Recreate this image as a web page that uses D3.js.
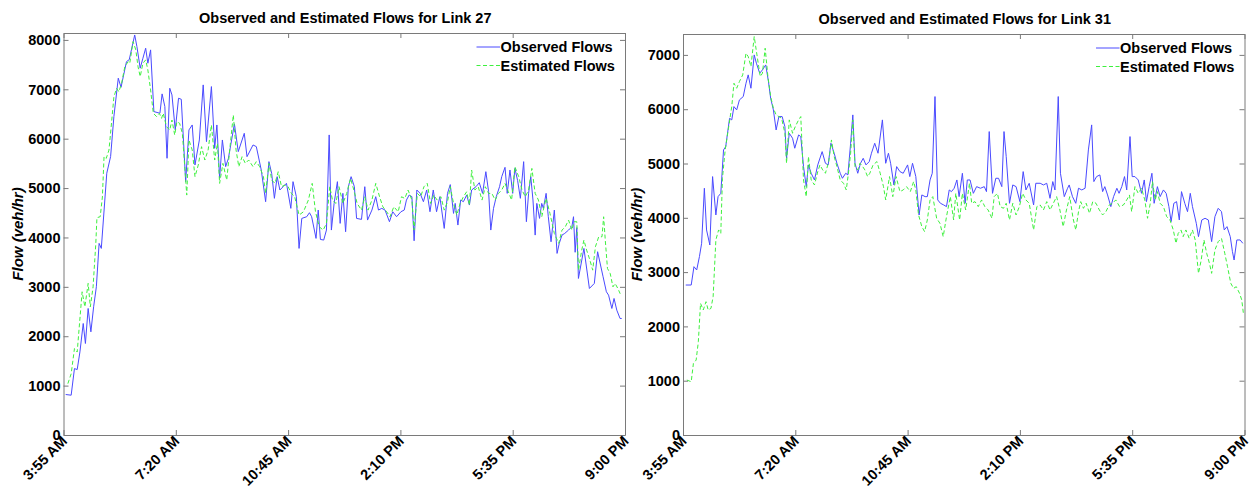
<!DOCTYPE html>
<html><head><meta charset="utf-8">
<script src="https://cdn.jsdelivr.net/npm/d3@7"></script>
<style>
html,body{margin:0;padding:0;background:#fff;}
svg text{font-family:Arial,"Liberation Sans",sans-serif;}
</style></head>
<body><svg id="c" width="1255" height="488"></svg>
<script>
// minutes after 3:55 AM
const timeTickMinutes = [0, 205, 410, 615, 820, 1025];
const timeTickLabels = ["3:55 AM", "7:20 AM", "10:45 AM", "2:10 PM", "5:35 PM", "9:00 PM"];
const link27YTicks = [0,1000,2000,3000,4000,5000,6000,7000,8000];
const link31YTicks = [0,1000,2000,3000,4000,5000,6000,7000];
const seriesNames = ["Observed Flows", "Estimated Flows"];

const link27ObsT = [4,14,20,25,30,36,40,45,50,55,60,65,69,79,86,92,100,105,115,120,130,134,140,145,150,154,159,165,176,180,185,189,194,198,204,210,215,223,229,235,240,248,255,261,270,276,280,285,290,296,301,312,319,330,335,346,352,361,369,375,380,385,390,395,401,407,415,419,425,430,435,444,449,453,461,465,469,475,480,485,489,494,500,505,510,515,520,525,531,535,544,550,555,563,570,575,581,587,595,601,608,616,622,626,631,636,640,645,651,657,663,669,675,681,687,695,701,706,712,715,720,725,730,736,741,745,753,759,765,771,776,780,785,790,796,800,806,810,815,820,824,829,834,840,845,849,853,857,861,864,869,873,876,881,885,890,896,901,905,910,915,922,928,931,934,937,940,950,960,969,975,985,991,995,1001,1005,1010,1016,1019];
const link27ObsV = [820,806,1345,1325,1683,2258,1853,2562,2089,2596,3001,3880,3778,5300,5640,6450,7225,7040,7560,7600,8100,7866,7427,7630,7832,7528,7798,6549,6515,6907,6650,5603,7021,6886,6177,6819,6798,5130,6177,6278,5468,5974,7089,5940,7055,5805,6278,5197,5974,5434,5600,6300,5738,6109,5636,5873,5839,5366,4724,5535,5298,4792,5231,4961,5028,5096,4589,5130,4826,3778,4386,4420,4501,4420,3981,4555,3960,3947,4150,6076,4150,4690,5130,4285,4893,4116,5028,5231,5028,4386,4366,5028,4352,4555,4826,4555,4589,4555,4319,4521,4420,4521,4555,4757,4859,4826,3933,4961,4893,4724,4961,4521,4961,4521,4826,4183,4893,5070,4487,4690,4251,4758,4724,4859,4656,4961,5028,5109,4893,5332,4927,4150,4589,4826,5028,5231,5420,4893,5366,4893,5400,5150,4792,5535,4319,4893,5231,4758,4048,4690,4386,4690,4589,4893,4420,3913,4555,3677,3880,4048,4082,4150,4217,4420,3700,4200,3170,3778,2967,3069,3711,3204,2900,2832,2562,2765,2528,2359,2359];

const link27EstT = [8,14,20,25,34,39,45,49,54,59,61,67,71,74,78,83,87,92,97,101,106,112,118,121,127,132,136,140,145,150,154,159,164,170,175,179,182,188,194,198,203,207,212,217,225,229,235,240,246,252,258,264,270,276,281,285,291,298,304,310,315,320,326,332,338,346,352,358,365,369,375,380,386,392,398,404,410,416,422,430,438,447,454,460,467,474,480,486,491,497,503,510,517,524,530,536,544,550,556,563,570,577,583,590,596,603,611,617,623,629,636,640,646,652,658,664,670,676,682,689,695,701,706,712,718,724,730,736,741,745,751,757,764,770,776,782,788,794,800,806,812,818,824,831,837,843,849,855,861,867,873,881,888,896,904,910,916,922,928,932,937,940,946,950,955,961,966,971,977,983,986,989,993,998,1003,1007,1012,1016,1019];
const link27EstV = [1040,1240,1750,1680,2900,2595,3070,2595,3000,3880,4400,4420,4820,5635,5600,5770,6240,6850,7020,6950,7120,7460,7560,7530,7966,7797,7460,7257,7527,7595,7392,6987,6514,6446,6514,6412,6514,6243,6175,6378,6074,6345,6311,6108,4858,5973,5770,5230,5466,5838,5568,5770,6277,5568,5905,5095,5500,5162,5838,6480,5770,5433,5635,5500,5568,5433,5534,5433,5230,4892,5500,5162,5095,5331,5028,5061,5028,4892,4824,4453,4520,4757,5095,4520,4216,4149,4284,5028,4757,4689,5028,4689,4892,5196,4960,4689,4554,4824,4554,4757,5095,4824,4622,4520,4419,4622,4520,4824,4791,4960,4757,4149,4892,4824,5028,5095,4689,4858,4757,4824,4554,4723,5028,4689,4453,4689,4824,4926,4655,5365,4960,5028,4757,5028,4892,4892,4757,4892,4960,5095,4926,4757,5432,5230,4960,4824,4960,5398,4892,4757,4419,4791,4487,4081,3879,4149,4216,4351,4149,4318,4318,3338,3743,3946,3743,3540,3338,3811,4014,4014,4419,3946,3372,3270,3000,3068,2966,2865,2831];

const link31ObsT = [5,15,20,25,30,34,39,43,49,54,60,64,69,74,78,85,89,93,98,103,110,115,119,124,130,134,140,145,151,156,160,165,170,175,181,186,189,194,200,204,211,215,220,225,229,234,240,246,254,260,265,270,276,281,287,291,297,301,306,310,314,319,324,329,334,340,344,350,356,364,370,375,379,385,390,396,402,410,414,419,425,431,436,442,446,451,455,460,465,470,476,481,486,490,495,500,504,510,515,519,524,530,536,543,550,554,559,565,571,576,582,586,590,596,602,608,615,621,626,632,640,644,652,658,664,670,675,679,685,689,696,702,705,711,717,722,728,734,740,746,750,755,761,766,770,775,781,786,792,796,801,806,810,816,820,825,831,837,842,846,851,856,860,866,871,877,882,887,891,896,901,906,910,916,921,926,930,937,941,947,953,959,965,971,977,983,988,993,999,1003,1006,1011,1017,1022];
const link31ObsV = [2762,2762,3100,3039,3285,3531,4544,3776,3499,4759,4052,4390,4451,5250,5311,5833,5803,6048,5987,6171,6233,6478,6632,6386,7000,6847,6663,6724,6816,6509,6202,5987,5618,5864,5864,5680,5096,5557,5465,5281,5526,5496,4943,4574,4974,4820,4697,4974,5219,5004,4974,5373,5189,5004,4820,4728,4820,4790,5373,5895,5004,4820,5004,5096,4974,5035,5189,5373,5189,5803,5004,5189,5004,4605,4943,4851,4820,4974,4759,5004,4759,4052,4421,4390,4390,4697,4820,6233,4329,4267,4236,4206,4513,4482,4544,4697,4390,4820,4267,4697,4697,4451,4574,4544,4574,4482,5588,4451,4728,4728,4574,5588,5127,4267,4605,4574,4298,4851,4513,4636,4236,4636,4636,4605,4636,4359,4667,4513,6233,4820,4390,4544,4605,4390,4267,4544,4513,4544,5250,5711,4667,4759,4790,4482,4574,4421,4206,4390,4544,4451,4574,4759,4513,5496,4759,4759,4697,4451,4697,4298,4574,4820,4267,4574,4390,4513,4451,4206,3929,4267,4298,3960,4482,4267,4113,4451,4206,3899,3653,3960,3991,3960,3561,4021,4175,4113,3776,3837,3653,3377,3223,3592,3592,3530];

const link31EstT = [7,15,19,24,28,32,37,42,46,51,55,60,65,69,72,77,83,89,93,98,103,109,115,119,124,130,135,141,145,150,155,160,165,170,175,180,186,189,194,200,205,211,215,220,225,229,234,240,246,250,255,260,266,271,276,281,287,293,298,302,306,310,314,319,323,328,332,337,341,347,354,360,366,370,377,383,389,396,402,408,415,421,425,430,436,441,446,451,456,463,469,475,481,488,494,498,505,510,516,523,527,533,539,545,551,557,564,568,574,579,585,590,596,602,608,614,620,626,632,640,646,652,658,664,670,676,682,688,694,700,706,712,717,722,726,731,736,742,748,754,760,766,772,778,784,790,797,804,810,815,819,825,831,837,843,848,853,857,862,866,871,877,883,889,895,900,904,909,913,918,924,930,935,941,946,951,956,961,965,971,977,983,989,994,1000,1005,1010,1016,1020,1023];
const link31EstV = [1012,981,1319,1380,1718,2424,2302,2455,2302,2332,2547,3592,3776,3714,4728,5250,5649,6048,6478,6386,6509,6632,7031,6970,6786,7338,7000,6601,6663,7123,6601,6233,6018,5895,5864,5833,5557,5004,5803,5557,5680,5803,5864,4697,4390,5127,4697,4605,4851,4974,4882,4820,5035,5434,5127,4943,4697,4636,4513,4820,5189,5803,4943,4882,5004,4943,4882,4759,4820,4974,5035,4820,4574,4329,4759,4390,4759,4482,4513,4574,4482,4667,4513,4052,3837,3745,3960,4329,4390,3991,3899,3653,4021,4390,3960,4451,3960,4451,4144,4636,4267,4298,4206,4329,4206,4144,3991,4390,4451,4206,4175,4267,3960,4267,4052,4206,4451,4329,4267,3776,4206,4236,4144,4298,4144,4267,4390,4144,3837,4144,4390,3991,3776,4113,4298,4175,4267,4083,4298,4267,4144,4052,4113,4236,4267,4329,4206,4236,4329,4421,4113,4574,4451,4544,4329,3991,4267,4667,4329,4482,4267,4206,4021,3960,3776,3530,3714,3776,3653,3776,3622,3776,3592,2977,3223,3592,3346,3162,2977,3407,3561,3622,3346,3100,2793,2701,2731,2608,2486,2240];

const svg = d3.select("#c");
const OBS_COLOR = "#4a4aff", EST_COLOR = "#3ef03e", AXIS_COLOR = "#7a7a7a";
const FONT = "14.5px";

function panel(cfg){
  const g = svg.append("g");
  const x = d3.scaleLinear().domain([0,1025]).range([cfg.left, cfg.right]);
  const y = d3.scaleLinear().domain([0, cfg.ymax]).range([cfg.bottom, cfg.top]);

  // title
  g.append("text").attr("x",(cfg.left+cfg.right)/2 + 1).attr("y",cfg.top-10.5)
    .attr("text-anchor","middle").attr("font-size",FONT).attr("font-weight","bold")
    .text(cfg.title);

  // lines
  const line = d3.line().x(d=>x(d[0])).y(d=>y(d[1]));
  const obs = cfg.obsT.map((t,i)=>[t,cfg.obsV[i]]);
  const est = cfg.estT.map((t,i)=>[t,cfg.estV[i]]);
  g.append("path").datum(obs).attr("d",line).attr("fill","none")
    .attr("stroke",OBS_COLOR).attr("stroke-width",1);
  g.append("path").datum(est).attr("d",line).attr("fill","none")
    .attr("stroke",EST_COLOR).attr("stroke-width",1).attr("stroke-dasharray","4,2.5");

  // axes (ticks inside like MATLAB)
  const bottomAxis = d3.axisBottom(x).tickValues(timeTickMinutes).tickSizeInner(-5).tickSizeOuter(0).tickFormat("");
  const topAxis = d3.axisTop(x).tickValues(timeTickMinutes).tickSizeInner(-5).tickSizeOuter(0).tickFormat("");
  const leftAxis = d3.axisLeft(y).tickValues(cfg.yticks).tickSizeInner(-5).tickSizeOuter(0).tickFormat("");
  const rightAxis = d3.axisRight(y).tickValues(cfg.yticks).tickSizeInner(-5).tickSizeOuter(0).tickFormat("");
  const ax = [
    g.append("g").attr("transform",`translate(0,${cfg.bottom})`).call(bottomAxis),
    g.append("g").attr("transform",`translate(0,${cfg.top})`).call(topAxis),
    g.append("g").attr("transform",`translate(${cfg.left},0)`).call(leftAxis),
    g.append("g").attr("transform",`translate(${cfg.right},0)`).call(rightAxis)
  ];
  ax.forEach(a=>{a.selectAll("path,line").attr("stroke",AXIS_COLOR);});

  // y tick labels
  g.selectAll(null).data(cfg.yticks).join("text")
    .attr("x",cfg.left-3).attr("y",d=>y(d)).attr("dy","0.36em")
    .attr("text-anchor","end").attr("font-size",FONT).attr("font-weight","bold")
    .text(d=>d);

  // x tick labels rotated
  g.selectAll(null).data(timeTickMinutes).join("text")
    .attr("text-anchor","end").attr("font-size",FONT).attr("font-weight","bold")
    .attr("transform",(d)=>`translate(${x(d)+4.5},${cfg.bottom+7}) rotate(-45)`)
    .text((d,i)=>timeTickLabels[i]);

  // y axis label
  g.append("text").attr("transform",`translate(${cfg.ylabX},${(cfg.top+cfg.bottom)/2}) rotate(-90)`)
    .attr("text-anchor","middle").attr("dy","0.35em").attr("font-size","15px")
    .attr("font-weight","bold").attr("font-style","italic").text("Flow (veh/hr)");

  // legend
  const lg = g.append("g");
  const lx1 = cfg.right - 148.5, lx2 = cfg.right - 125;
  [[OBS_COLOR,null],[EST_COLOR,"4,2.5"]].forEach((s,i)=>{
    const ly = cfg.top + 14 + i*18.5;
    lg.append("line").attr("x1",lx1).attr("x2",lx2).attr("y1",ly).attr("y2",ly)
      .attr("stroke",s[0]).attr("stroke-width",1).attr("stroke-dasharray",s[1]);
    lg.append("text").attr("x",lx2+0.5).attr("y",ly).attr("dy","0.36em")
      .attr("font-size",FONT).attr("font-weight","bold").text(seriesNames[i]);
  });
}

panel({left:63.5,right:625,top:33,bottom:435,ymax:8140,yticks:link27YTicks,
  title:"Observed and Estimated Flows for Link 27",ylabX:18,
  obsT:link27ObsT,obsV:link27ObsV,estT:link27EstT,estV:link27EstV});
panel({left:683,right:1244.5,top:34,bottom:435,ymax:7385,yticks:link31YTicks,
  title:"Observed and Estimated Flows for Link 31",ylabX:637,
  obsT:link31ObsT,obsV:link31ObsV,estT:link31EstT,estV:link31EstV});
</script></body></html>
